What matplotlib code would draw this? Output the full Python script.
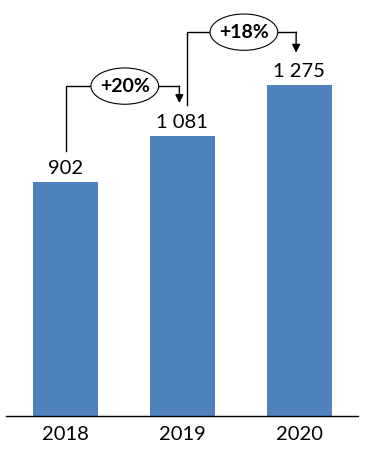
import matplotlib
matplotlib.use("Agg")
from matplotlib import pyplot as plt
from matplotlib.patches import Ellipse

years = ["2018", "2019", "2020"]
values = [902, 1081, 1275]
growth = ["+20%", "+18%"]

bar_color = "#4F81BD"

plt.rcParams["font.family"] = ["Lato", "DejaVu Sans"]

fig = plt.figure(figsize=(3.69, 4.51), dpi=100)
ax = fig.add_axes([6 / 369, 35 / 451, 352 / 369, 416 / 451])

X = range(len(years))
ax.bar(X, values, width=0.557, color=bar_color)

ax.set_xlim(-0.51, 2.505)
ax.set_ylim(0, 1604)

for spine in ["top", "left", "right"]:
    ax.spines[spine].set_visible(False)
ax.spines["bottom"].set_linewidth(1)
ax.set_yticks([])
ax.set_xticks(list(X))
ax.set_xticklabels(years, fontsize=14.5)
ax.tick_params(axis="x", length=0, pad=7)

# value labels
for i, v in enumerate(values):
    label = f"{v:,}".replace(",", " ")
    ax.text(i, v + 52, label, ha="center", va="center", fontsize=14.5)

# growth connectors
levels = [1272, 1480]
starts = [0.0, 1.04]
for i, g in enumerate(growth):
    x0 = starts[i]
    x1 = i + 0.975
    y0 = values[i] + 120
    y1 = levels[i]
    tip = values[i + 1] + 126
    ax.plot([x0, x0, x1], [y0, y1, y1], color="black", lw=1, solid_joinstyle="miter")
    ax.annotate("", xy=(x1, tip), xytext=(x1, y1),
                arrowprops=dict(arrowstyle="-|>", color="black", lw=1,
                                mutation_scale=12, shrinkA=0, shrinkB=0))
    cx = (x0 + x1) / 2 + 0.02
    ax.add_patch(Ellipse((cx, y1), 0.58, 140, facecolor="white",
                         edgecolor="black", lw=0.8, zorder=3))
    ax.text(cx, y1, g, ha="center", va="center", fontsize=14,
            fontweight="bold", zorder=4)

fig.savefig("out.png", dpi=100)
